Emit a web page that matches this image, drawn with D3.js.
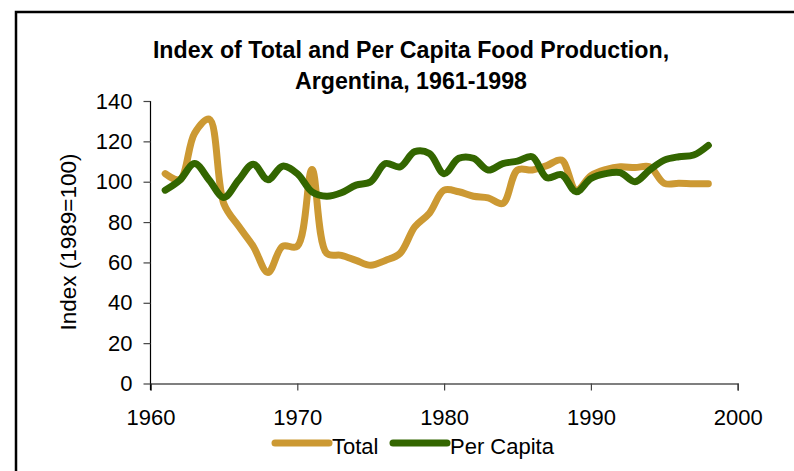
<!DOCTYPE html>
<html><head><meta charset="utf-8">
<script src="https://cdn.jsdelivr.net/npm/d3@7"></script>
<style>body{margin:0;background:#fff;}svg{display:block;font-family:"Liberation Sans",Arial,sans-serif;}</style>
</head><body>
<svg id="c" width="794" height="471"></svg>
<script>
const years = d3.range(1961, 1999);
const totalValues = [104,101,124,131,89,78,68,55,68,68,106,64.5,63.5,61,58.6,61,64.5,77.6,84.4,95.8,95,92.8,92,89.2,105.8,105.8,108,110.7,95.8,103,106,107.4,107,107.4,99.2,99.2,99,99];
const perCapitaValues = [95.8,100.8,109,100.8,92.2,100.8,108.7,101,107.7,104,95,92.8,94.5,98.3,100,109,107.4,114.9,114,104,111.6,111.6,105.8,109,110.2,112.4,102,103.5,95,101.6,104,104.5,100,105.8,110.7,112.4,113.2,118];
const xTicks = [1960,1970,1980,1990,2000];
const yTicks = [0,20,40,60,80,100,120,140];
const seriesNames = ["Total","Per Capita"];
const colors = ["#CC9933","#336600"];

const svg = d3.select("#c");
svg.append("rect").attr("x",16).attr("y",12).attr("width",790).attr("height",470)
  .attr("fill","none").attr("stroke","#000").attr("stroke-width",2.5);

const x = d3.scaleLinear().domain([1960,2000]).range([150.5,737.7]);
const y = d3.scaleLinear().domain([0,140]).range([383.5,101]);

// title
const title = svg.append("text").attr("text-anchor","middle").attr("font-weight","bold").attr("font-size",23.2).attr("fill","#000");
title.append("tspan").attr("x",411).attr("y",58).text("Index of Total and Per Capita Food Production,");
title.append("tspan").attr("x",411).attr("y",89).text("Argentina, 1961-1998");

// axes
const gx = svg.append("g").attr("transform","translate(0,383.5)")
  .call(d3.axisBottom(x).tickValues(xTicks).tickFormat(d3.format("d")).tickSize(7).tickPadding(19));
const gy = svg.append("g").attr("transform","translate(150.5,0)")
  .call(d3.axisLeft(y).tickValues(yTicks).tickSize(7).tickPadding(11));
[gx,gy].forEach(g=>{
  g.select(".domain").attr("stroke","#000").attr("stroke-width",1.2);
  g.selectAll(".tick line").attr("stroke","#444").attr("stroke-width",1.2);
  g.selectAll(".tick text").attr("font-size",22).attr("fill","#000").attr("font-family","Liberation Sans, Arial, sans-serif");
});
gy.select(".domain").attr("d","M0,101V390");

svg.append("text").attr("transform","translate(76,242) rotate(-90)").attr("text-anchor","middle")
  .attr("font-size",22.5).attr("fill","#000").text("Index (1989=100)");

const line = d3.line().x(d=>x(d[0])).y(d=>y(d[1])).curve(d3.curveCatmullRom.alpha(0.5));
[totalValues, perCapitaValues].forEach((vals,i)=>{
  svg.append("path").datum(years.map((yr,j)=>[yr,vals[j]]))
    .attr("d",line).attr("fill","none").attr("stroke",colors[i]).attr("stroke-width",7)
    .attr("stroke-linejoin","round").attr("stroke-linecap","round");
});

// legend
const legX = [275,393];
seriesNames.forEach((n,i)=>{
  svg.append("line").attr("x1",legX[i]).attr("x2",legX[i]+54).attr("y1",443).attr("y2",443)
    .attr("stroke",colors[i]).attr("stroke-width",7).attr("stroke-linecap","round");
  svg.append("text").attr("x",legX[i]+57).attr("y",454).attr("font-size",22).attr("fill","#000").text(n);
});
</script>
</body></html>
